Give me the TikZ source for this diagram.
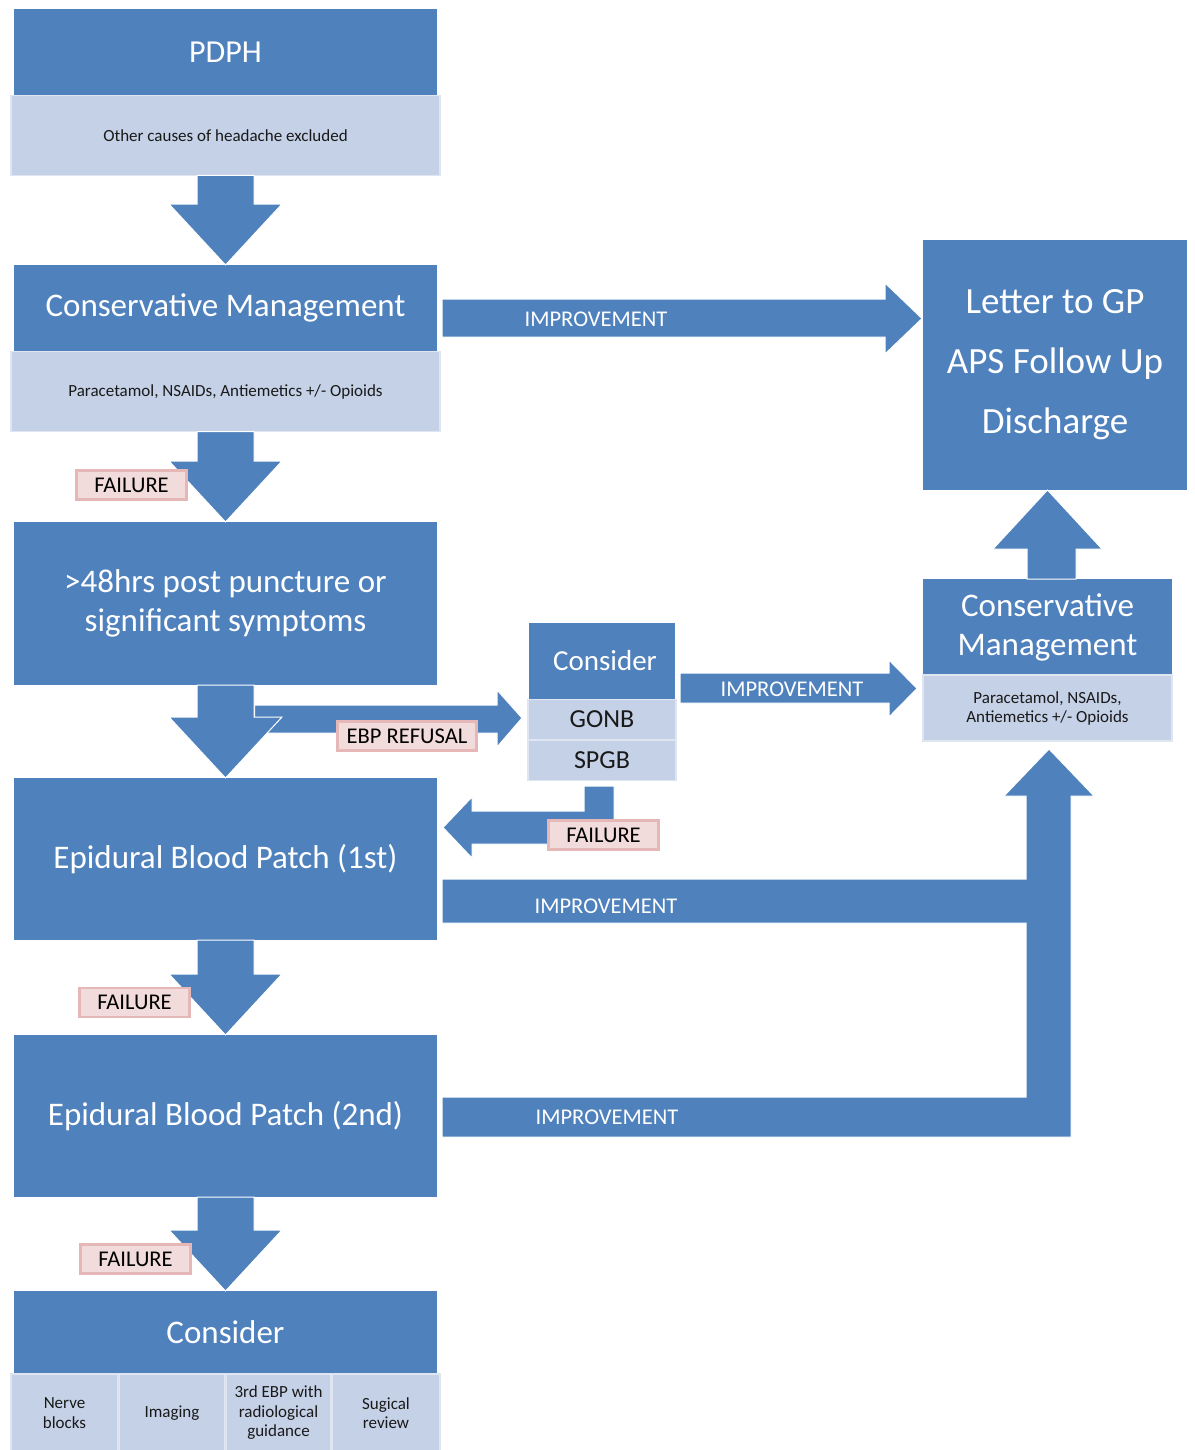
\documentclass[tikz,border=0pt]{standalone}
\usepackage{fontspec}
\setmainfont{Carlito}
\usetikzlibrary{calc}
\definecolor{bdark}{RGB}{79,129,189}
\definecolor{blight}{RGB}{197,209,231}
\definecolor{pinkf}{RGB}{242,220,219}
\definecolor{pinkd}{RGB}{229,184,183}
\newcommand\BDown[2]{\filldraw[blk] let \p1=(#1), \p2=(#2) in (\x1-28.5pt,\y1) -- (\x1+28.5pt,\y1) -- (\x1+28.5pt,\y2+61pt) -- (\x1+56.5pt,\y2+61pt) -- (\x1,\y2) -- (\x1-56.5pt,\y2+61pt) -- (\x1-28.5pt,\y2+61pt) -- cycle;}
\begin{document}
\begin{tikzpicture}[x=1pt,y=-1pt,
 darkbox/.style={fill=bdark, text=white, inner sep=0pt, outer sep=0pt, anchor=north west, align=center},
 lightbox/.style={fill=blight, draw=blight!55!white, line width=1.2pt, text=black!90, inner sep=0pt, outer sep=0pt, anchor=north west, align=center},
 blk/.style={fill=bdark, draw=white, line width=1pt, line join=miter},
 tag/.style={fill=pinkf, draw=pinkd, line width=2.5pt, text=black, inner sep=0pt, minimum width=110pt, minimum height=29pt, font=\fontsize{22.5}{26}\selectfont},
 imp/.style={text=white, font=\fontsize{22.5}{26}\selectfont, inner sep=0pt}]
\useasboundingbox (0,0) rectangle (1194,1450);
\fill[white] (0,0) rectangle (1194,1450);

% left column
\node[darkbox, minimum width=423pt, minimum height=86pt, font=\fontsize{32}{38}\selectfont] (pdph) at (14,9) {PDPH};
\node[lightbox, minimum width=429pt, minimum height=80pt, font=\fontsize{17}{20}\selectfont] (pdphsub) at (11,95.5) {Other causes of headache excluded};
\node[darkbox, minimum width=423pt, minimum height=86pt, font=\fontsize{33}{39}\selectfont] (cm) at (14,265) {Conservative Management};
\node[lightbox, minimum width=429pt, minimum height=80pt, font=\fontsize{17}{20}\selectfont] (cmsub) at (11,351.5) {Paracetamol, NSAIDs, Antiemetics +/- Opioids};
\node[darkbox, minimum width=423pt, minimum height=163pt, font=\fontsize{33}{38.5}\selectfont] (h48) at (14,522) {>48hrs post puncture or\\significant symptoms};
\node[darkbox, minimum width=423pt, minimum height=162pt, font=\fontsize{33}{39}\selectfont] (ebp1) at (14,778) {Epidural Blood Patch (1st)};
\node[darkbox, minimum width=423pt, minimum height=162pt, font=\fontsize{33}{39}\selectfont] (ebp2) at (14,1035) {Epidural Blood Patch (2nd)};
\node[darkbox, minimum width=423pt, minimum height=82pt, font=\fontsize{33}{39}\selectfont] (cons) at (14,1291) {Consider};
\node[lightbox, minimum width=107pt, minimum height=78pt, font=\fontsize{17}{19.5}\selectfont] (c1) at (11,1374) {Nerve\\blocks};
\node[lightbox, minimum width=106pt, minimum height=78pt, font=\fontsize{17}{19.5}\selectfont] (c2) at (119,1374) {Imaging};
\node[lightbox, minimum width=105pt, minimum height=78pt, font=\fontsize{17}{19.5}\selectfont] (c3) at (226,1374) {3rd EBP with\\radiological\\guidance};
\node[lightbox, minimum width=108pt, minimum height=78pt, font=\fontsize{17}{19.5}\selectfont] (c4) at (332,1374) {Sugical\\review};

% middle column
\node[darkbox, minimum width=146pt, minimum height=76pt, font=\fontsize{29}{34}\selectfont] (cons2) at (529,623) {\hspace*{6pt}Consider};
\node[lightbox, minimum width=148pt, minimum height=40pt, font=\fontsize{26}{30}\selectfont] (gonb) at (528,699.5) {GONB};
\node[lightbox, minimum width=148pt, minimum height=40pt, font=\fontsize{26}{30}\selectfont] (spgb) at (528,740.5) {SPGB};

% right column
\node[darkbox, minimum width=264pt, minimum height=250pt, font=\fontsize{37}{60}\selectfont] (letter) at (923,240) {Letter to GP\\APS Follow Up\\Discharge};
\node[darkbox, minimum width=249pt, minimum height=96pt, font=\fontsize{33}{39}\selectfont] (cmr) at (923,579) {Conservative\\Management};
\node[lightbox, minimum width=249pt, minimum height=66pt, font=\fontsize{17}{19}\selectfont] (cmrsub) at (923,675) {Paracetamol, NSAIDs,\\Antiemetics +/- Opioids};

% down arrows
\BDown{pdphsub.south}{cm.north}
\BDown{cmsub.south}{h48.north}
% EBP refusal branch (behind down arrow)
\filldraw[blk] let \p1=(h48.south), \p2=(cons2.west) in (\x1+29pt,-705pt) -- (\x2-32pt,-705pt) -- (\x2-32pt,-690pt) -- (\x2-7pt,-718pt) -- (\x2-32pt,-747pt) -- (\x2-32pt,-733pt) -- (\x1+29pt,-733pt) -- cycle;
\BDown{h48.south}{ebp1.north}
\BDown{ebp1.south}{ebp2.north}
\BDown{ebp2.south}{cons.north}

% improvement: conservative management -> letter
\filldraw[blk] let \p1=(cm.east), \p2=(letter.west) in (\x1+5pt,-299pt) -- (\x2-38pt,-299pt) -- (\x2-38pt,-283pt) -- (\x2-1pt,-318.5pt) -- (\x2-38pt,-354pt) -- (\x2-38pt,-337pt) -- (\x1+5pt,-337pt) -- cycle;
% improvement: consider -> conservative management (right)
\filldraw[blk] let \p1=(cons2.east), \p2=(cmr.west) in (\x1+5pt,-673pt) -- (\x2-34pt,-673pt) -- (\x2-34pt,-660pt) -- (\x2-6pt,-688.5pt) -- (\x2-34pt,-717pt) -- (\x2-34pt,-703pt) -- (\x1+5pt,-703pt) -- cycle;
% failure: SPGB -> EBP 1st
\filldraw[blk] let \p1=(spgb.south), \p2=(ebp1.east) in (\x1+12pt,-786pt) -- (\x1+12pt,-844pt) -- (\x2+35pt,-844pt) -- (\x2+35pt,-858pt) -- (\x2+6pt,-827.5pt) -- (\x2+35pt,-797pt) -- (\x2+35pt,-811pt) -- (\x1-18pt,-811pt) -- (\x1-18pt,-786pt) -- cycle;
% improvement: EBP 1st / 2nd -> conservative management (right)
\filldraw[blk] let \p1=(ebp1.east), \p2=(ebp2.east), \p3=(cmrsub.south) in (\x2+5pt,-1097pt) -- (\x3-21.5pt,-1097pt) -- (\x3-21.5pt,-923pt) -- (\x1+5pt,-923pt) -- (\x1+5pt,-879pt) -- (\x3-21.5pt,-879pt) -- (\x3-21.5pt,\y3-55pt) -- (\x3-43.5pt,\y3-55pt) -- (\x3+1.5pt,\y3-8pt) -- (\x3+46.5pt,\y3-55pt) -- (\x3+23.5pt,\y3-55pt) -- (\x3+23.5pt,-1137pt) -- (\x2+5pt,-1137pt) -- cycle;
% conservative management (right) -> letter
\filldraw[blk] let \p1=(cmr.north), \p2=(letter.south) in (\x1-20.5pt,\y1) -- (\x1-20.5pt,\y2-59pt) -- (\x1-54.5pt,\y2-59pt) -- (\x1,\y2) -- (\x1+54.5pt,\y2-59pt) -- (\x1+28.5pt,\y2-59pt) -- (\x1+28.5pt,\y1) -- cycle;

% labels
\node[imp] (i1) at (596,319) {IMPROVEMENT};
\node[imp] (i2) at (792,689) {IMPROVEMENT};
\node[imp] (i3) at (606,906) {IMPROVEMENT};
\node[imp] (i4) at (607,1117) {IMPROVEMENT};
\node[tag] (f1) at (131.5,485) {FAILURE};
\node[tag] (f2) at (603.5,835) {FAILURE};
\node[tag] (f3) at (134.5,1002.5) {FAILURE};
\node[tag] (f4) at (135.5,1259) {FAILURE};
\node[tag, minimum width=139pt] (ref) at (407,736) {EBP REFUSAL};
\end{tikzpicture}
\end{document}
